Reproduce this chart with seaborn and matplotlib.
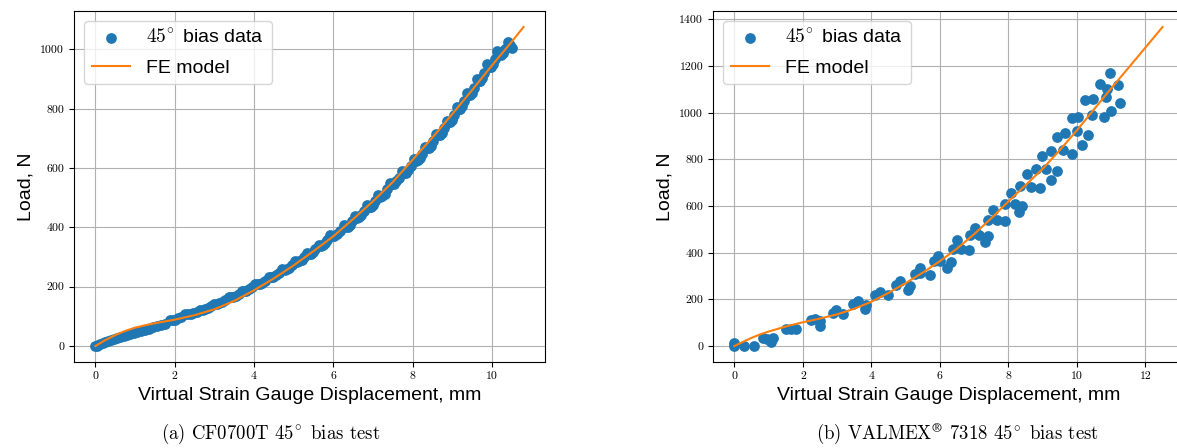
import numpy as np
import pandas as pd
import seaborn as sns
import matplotlib.pyplot as plt

plt.rcParams['font.family'] = ['Liberation Sans', 'DejaVu Sans']
plt.rcParams['mathtext.fontset'] = 'cm'
plt.rcParams['axes.grid'] = True

# (a) CF0700T 45 deg bias test -- measured points
cf_disp = [0.00, 0.03, 0.07, 0.12, 0.18, 0.25, 0.32, 0.40, 0.47, 0.55, 0.63, 0.71,
           0.80, 0.88, 0.97, 1.06, 1.15, 1.25, 1.35, 1.45, 1.55, 1.65, 1.75,
           1.89, 1.95, 2.02, 2.09, 2.17,
           2.27, 2.33, 2.40, 2.47, 2.55,
           2.65, 2.71, 2.77, 2.84, 2.91,
           3.00, 3.06, 3.12, 3.19, 3.26,
           3.36, 3.42, 3.47, 3.54, 3.61,
           3.70, 3.76, 3.81, 3.87, 3.94,
           4.03, 4.09, 4.14, 4.21, 4.28,
           4.37, 4.43, 4.48, 4.55, 4.62,
           4.71, 4.77, 4.82, 4.88, 4.95,
           5.04, 5.09, 5.14, 5.20, 5.26,
           5.34, 5.39, 5.44, 5.49, 5.55,
           5.63, 5.68, 5.73, 5.78, 5.84,
           5.92, 5.98, 6.03, 6.10, 6.17,
           6.26, 6.31, 6.36, 6.41, 6.47,
           6.55, 6.60, 6.65, 6.71, 6.77,
           6.85, 6.90, 6.95, 7.00, 7.06,
           7.14, 7.19, 7.24, 7.30, 7.36,
           7.44, 7.49, 7.54, 7.59, 7.65,
           7.73, 7.78, 7.83, 7.89, 7.95,
           8.03, 8.08, 8.13, 8.18, 8.24,
           8.32, 8.37, 8.41, 8.47, 8.52,
           8.60, 8.65, 8.69, 8.74, 8.80,
           8.87, 8.91, 8.95, 9.00, 9.05,
           9.12, 9.16, 9.20, 9.25, 9.30,
           9.37, 9.41, 9.46, 9.51, 9.56,
           9.63, 9.67, 9.71, 9.76, 9.81,
           9.88, 9.92, 9.97, 10.02, 10.07,
           10.14, 10.18, 10.23, 10.28, 10.33,
           10.40, 10.46, 10.52]
cf_load = [0, 1, 3, 6, 9, 13, 17, 20, 24, 27, 30, 33,
           37, 40, 43, 47, 51, 55, 59, 63, 67, 71, 75,
           87, 87, 89, 93, 99,
           107, 107, 108, 111, 116,
           123, 122, 124, 128, 134,
           143, 143, 144, 149, 155,
           165, 164, 165, 169, 176,
           187, 186, 187, 192, 199,
           210, 208, 209, 213, 221,
           233, 232, 233, 238, 247,
           260, 258, 259, 264, 273,
           288, 285, 286, 291, 300,
           314, 311, 311, 317, 326,
           342, 339, 341, 347, 357,
           374, 371, 371, 378, 389,
           407, 403, 403, 409, 420,
           437, 433, 434, 442, 454,
           474, 470, 470, 477, 489,
           508, 504, 505, 514, 528,
           550, 546, 547, 555, 568,
           590, 585, 585, 593, 607,
           630, 625, 626, 634, 649,
           672, 667, 667, 676, 691,
           716, 711, 711, 720, 735,
           760, 754, 754, 763, 780,
           806, 800, 800, 809, 826,
           852, 845, 845, 854, 871,
           899, 893, 893, 903, 921,
           950, 942, 941, 950, 967,
           995, 984, 981, 987, 1002,
           1026, 1015, 1006]

# (a) FE model
cf_fe_disp = [0.0, 0.25, 0.5, 0.75, 1.0, 1.25, 1.5, 1.75, 2.0, 2.5, 3.0, 3.5, 4.0,
              4.5, 5.0, 5.5, 6.0, 6.5, 7.0, 7.5, 8.0, 8.5, 9.0, 9.5, 10.0, 10.5, 10.8]
cf_fe_load = [0, 20, 37, 51, 62, 70, 77, 83, 89, 104, 124, 152, 188,
              228, 272, 320, 370, 428, 488, 553, 628, 703, 782, 863, 946, 1026, 1076]

# (b) VALMEX 7318 45 deg bias test -- measured points
vx_disp = [0.00, 0.00, 0.29, 0.58, 0.83, 0.95, 1.12, 1.07, 1.51, 1.80, 1.66, 2.24,
           2.34, 2.49, 2.49, 2.88, 2.97, 3.17, 3.46, 3.61, 3.80, 3.85, 4.09, 4.24,
           4.48, 4.71, 4.82, 5.07, 5.12, 5.26, 5.41, 5.43, 5.72, 5.82, 5.95, 6.00,
           6.21, 6.31, 6.37, 6.50, 6.61, 6.85, 6.87, 7.03, 7.14, 7.31, 7.41, 7.41,
           7.55, 7.67, 7.91, 7.89, 8.06, 8.19, 8.31, 8.35, 8.41, 8.53, 8.65, 8.80,
           8.92, 8.99, 9.11, 9.23, 9.24, 9.41, 9.43, 9.58, 9.65, 9.86, 9.86, 10.04,
           10.01, 10.14, 10.23, 10.33, 10.46, 10.43, 10.66, 10.79, 10.84, 10.87,
           10.96, 10.98, 11.21, 11.26]
vx_load = [14, 0, 0, 0, 36, 29, 36, 17, 71, 71, 74, 111,
           117, 107, 88, 143, 153, 138, 182, 192, 160, 178, 218, 232,
           217, 261, 278, 242, 259, 311, 335, 314, 305, 364, 385, 364,
           335, 359, 416, 453, 416, 413, 478, 505, 476, 445, 470, 542,
           585, 542, 537, 610, 656, 610, 573, 684, 602, 739, 680, 758,
           677, 813, 758, 837, 713, 751, 898, 841, 913, 977, 824, 984,
           922, 860, 1055, 906, 1058, 991, 1123, 981, 1066, 1101,
           1172, 1008, 1119, 1041]

# (b) FE model
vx_fe_disp = [0.0, 0.25, 0.5, 0.75, 1.0, 1.5, 2.0, 2.5, 3.0, 3.5, 4.0, 4.5, 5.0,
              5.5, 6.0, 6.5, 7.0, 7.5, 8.0, 8.5, 9.0, 9.5, 10.0, 10.5, 11.0,
              11.5, 12.0, 12.5]
vx_fe_load = [0, 18, 35, 50, 62, 84, 102, 118, 136, 160, 190, 228, 270,
              315, 364, 418, 480, 548, 620, 690, 760, 840, 925, 1015, 1105,
              1192, 1280, 1368]

panels = [
    (cf_disp, cf_load, cf_fe_disp, cf_fe_load),
    (vx_disp, vx_load, vx_fe_disp, vx_fe_load),
]
captions = [r"(a) CF0700T $45^{\!\circ}$ bias test",
            r"(b) VALMEX$^{\circledR}$ 7318 $45^{\!\circ}$ bias test"]
caption_x = [271 / 1177, 958 / 1177]

fig = plt.figure(figsize=(11.77, 4.48), dpi=100)
axes = [fig.add_axes([74 / 1177, 86 / 448, 471 / 1177, 351 / 448]),
        fig.add_axes([713 / 1177, 86 / 448, 471 / 1177, 351 / 448])]

for ax, (dx, dy, fx, fy) in zip(axes, panels):
    pts = pd.DataFrame({'disp': dx, 'load': dy})
    fe = pd.DataFrame({'disp': fx, 'load': fy})
    sns.scatterplot(data=pts, x='disp', y='load', ax=ax, color='#1f77b4',
                    s=60, linewidth=0, label=r'$45^{\!\circ}$ bias data', zorder=2)
    sns.lineplot(data=fe, x='disp', y='load', ax=ax, color='#ff7f0e',
                 linewidth=1.5, label='FE model', zorder=3)
    ax.grid(True, color='#b0b0b0', linewidth=0.8)
    ax.set_axisbelow(True)
    ax.set_xlabel('Virtual Strain Gauge Displacement, mm', fontsize=14)
    ax.set_ylabel('Load, N', fontsize=14)
    ax.tick_params(labelsize=8.5, labelfontfamily='cmr10')
    ax.legend(loc='upper left', fontsize=14, labelspacing=0.62)

for cx, txt in zip(caption_x, captions):
    fig.text(cx, 14 / 448, txt, ha='center', va='center', fontsize=13.5,
             family=['cmr10', 'DejaVu Serif'])

fig.savefig('out.png', dpi=100)
